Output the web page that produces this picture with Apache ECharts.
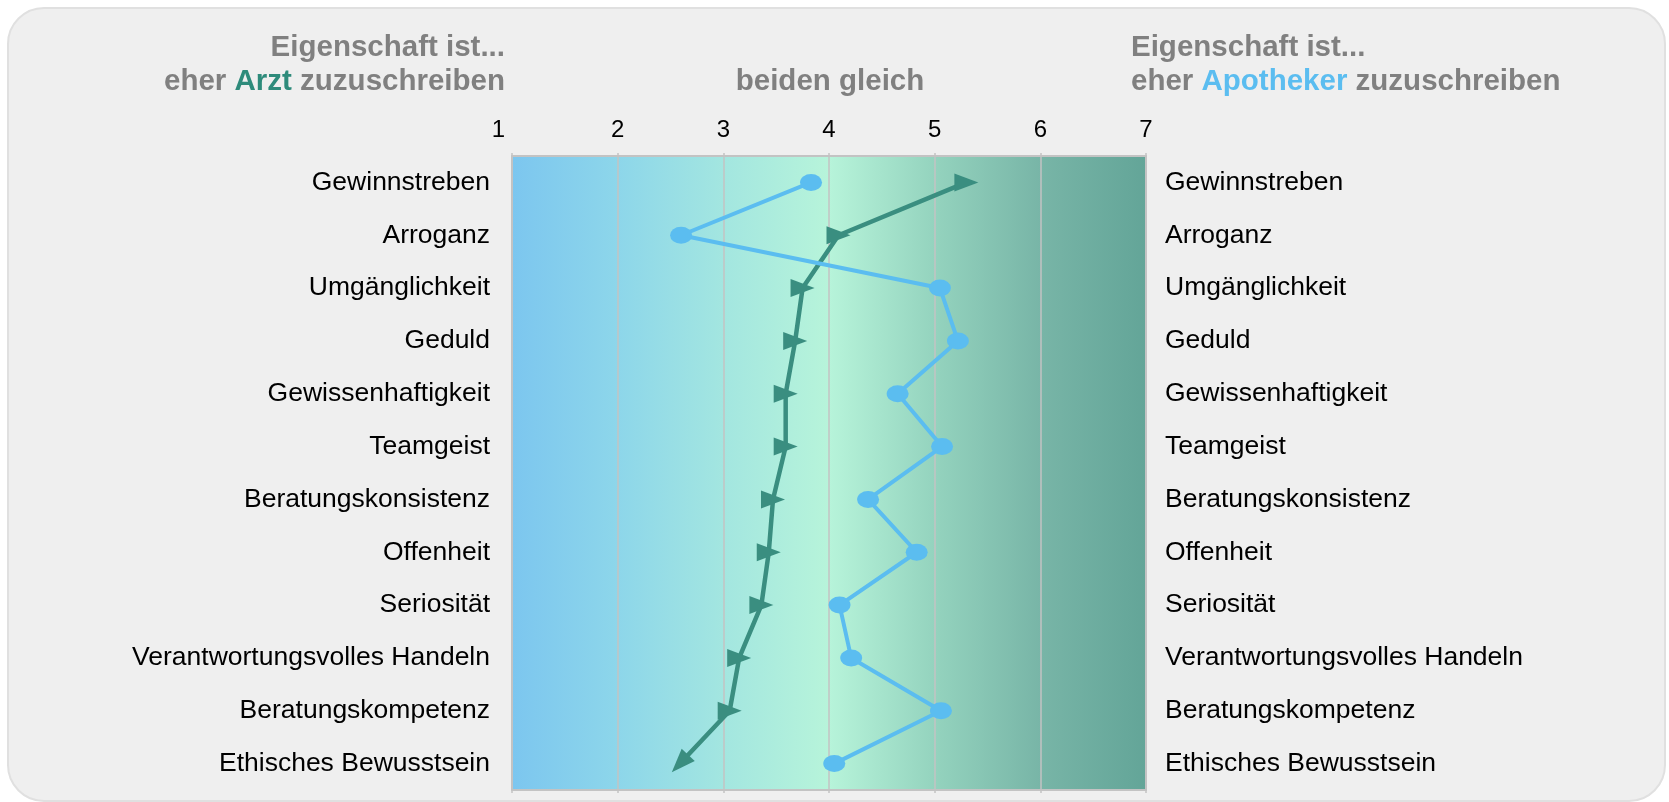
<!DOCTYPE html>
<html>
<head>
<meta charset="utf-8">
<script src="https://cdn.jsdelivr.net/npm/echarts@6/dist/echarts.min.js"></script>
<style>
  html, body { margin: 0; padding: 0; background: #ffffff; }
  #chart { width: 1669px; height: 802px; }
</style>
</head>
<body>
<div id="chart"></div>
<script>
// Eigenschaften (Zeilen von oben nach unten)
const categories = [
  'Gewinnstreben', 'Arroganz', 'Umgänglichkeit', 'Geduld', 'Gewissenhaftigkeit',
  'Teamgeist', 'Beratungskonsistenz', 'Offenheit', 'Seriosität',
  'Verantwortungsvolles Handeln', 'Beratungskompetenz', 'Ethisches Bewusstsein'
];

// Mittelwerte auf der Skala 1 (eher Arzt) bis 7 (eher Apotheker)
const apothekerValues = [3.83, 2.60, 5.05, 5.22, 4.65, 5.07, 4.37, 4.83, 4.10, 4.21, 5.06, 4.05];
const arztValues      = [5.30, 4.09, 3.75, 3.68, 3.59, 3.59, 3.47, 3.43, 3.36, 3.15, 3.06, 2.59];

// Skalenbeschriftung
const scaleTicks = [1, 2, 3, 4, 5, 6, 7];

const FONT = '"Liberation Sans", Arial, sans-serif';
const GRID = { left: 512, top: 156, width: 634, height: 634 };
const X_MIN = scaleTicks[0], X_MAX = scaleTicks[scaleTicks.length - 1];
const HEAD_FONT = 'bold 29.5px ' + FONT;

const chart = echarts.init(document.getElementById('chart'), null, { renderer: 'canvas' });

// Der letzte Arzt-Marker zeigt als Pfeilspitze in Richtung des letzten Segments
function arrowRotation() {
  const n = arztValues.length;
  const pxPerUnit = GRID.width / (X_MAX - X_MIN);
  const pxPerRow = GRID.height / categories.length;
  const dx = (arztValues[n - 1] - arztValues[n - 2]) * pxPerUnit;
  const dy = pxPerRow;
  return Math.atan2(-dy, dx) * 180 / Math.PI - 90;
}
const lastRotate = arrowRotation();

const grey = '#808080';
const gridGrey = '#C3C3C3';

const option = {
  animation: false,
  backgroundColor: 'transparent',
  textStyle: { fontFamily: FONT },
  graphic: [
    {
      type: 'rect', z: -10, silent: true,
      shape: { x: 8, y: 8, width: 1657, height: 793, r: 36 },
      style: { fill: '#EFEFEF', stroke: '#E0E0E0', lineWidth: 2 }
    },
    {
      type: 'text', z: 100, x: 505, y: 48,
      style: {
        text: 'Eigenschaft ist...', align: 'right', verticalAlign: 'middle',
        font: HEAD_FONT, fill: grey
      }
    },
    {
      type: 'text', z: 100, x: 505, y: 82,
      style: {
        text: '{g|eher }{a|Arzt}{g| zuzuschreiben}', align: 'right', verticalAlign: 'middle',
        font: HEAD_FONT, fill: grey,
        rich: {
          g: { font: HEAD_FONT, fill: grey },
          a: { font: HEAD_FONT, fill: '#2E8B7B' }
        }
      }
    },
    {
      type: 'text', z: 100, x: 830, y: 82,
      style: {
        text: 'beiden gleich', align: 'center', verticalAlign: 'middle',
        font: HEAD_FONT, fill: grey
      }
    },
    {
      type: 'text', z: 100, x: 1131, y: 48,
      style: {
        text: 'Eigenschaft ist...', align: 'left', verticalAlign: 'middle',
        font: HEAD_FONT, fill: grey
      }
    },
    {
      type: 'text', z: 100, x: 1131, y: 82,
      style: {
        text: '{g|eher }{p|Apotheker}{g| zuzuschreiben}', align: 'left', verticalAlign: 'middle',
        font: HEAD_FONT, fill: grey,
        rich: {
          g: { font: HEAD_FONT, fill: grey },
          p: { font: HEAD_FONT, fill: '#5BBDF0' }
        }
      }
    }
  ],
  grid: {
    left: GRID.left, top: GRID.top, width: GRID.width, height: GRID.height,
    show: true, borderWidth: 0,
    backgroundColor: {
      type: 'linear', x: 0, y: 0, x2: 1, y2: 0,
      colorStops: [
        { offset: 0, color: '#7CC6EF' },
        { offset: 1 / 6, color: '#8DD6EA' },
        { offset: 2 / 6, color: '#A3E6E0' },
        { offset: 3 / 6, color: '#B7F4DA' },
        { offset: 4 / 6, color: '#94D3BE' },
        { offset: 5 / 6, color: '#78B5A7' },
        { offset: 1, color: '#63A598' }
      ]
    }
  },
  xAxis: [
    {
      type: 'value', position: 'top', min: X_MIN, max: X_MAX, interval: 1,
      axisLine: { show: true, lineStyle: { color: gridGrey, width: 2 } },
      axisTick: { show: true, length: 3, lineStyle: { color: gridGrey, width: 1.5 } },
      splitLine: { show: true, lineStyle: { color: gridGrey, width: 1.5 } },
      axisLabel: {
        margin: 14, fontSize: 24, color: '#000', fontFamily: FONT,
        formatter: v => (v === X_MIN ? '{first|' + v + '}' : String(v)),
        rich: { first: { fontSize: 24, color: '#000', fontFamily: FONT, padding: [0, 27, 0, 0] } }
      }
    },
    {
      type: 'value', position: 'bottom', min: X_MIN, max: X_MAX, interval: 1,
      axisLine: { show: true, lineStyle: { color: gridGrey, width: 2 } },
      axisTick: { show: true, length: 3, lineStyle: { color: gridGrey, width: 1.5 } },
      splitLine: { show: false },
      axisLabel: { show: false }
    }
  ],
  yAxis: [
    {
      type: 'category', inverse: true, data: categories, position: 'left',
      axisLine: { show: true, lineStyle: { color: gridGrey, width: 2 } },
      axisTick: { show: false },
      axisLabel: { margin: 22, fontSize: 26.5, color: '#000', fontFamily: FONT }
    },
    {
      type: 'category', inverse: true, data: categories, position: 'right',
      axisLine: { show: true, lineStyle: { color: gridGrey, width: 2 } },
      axisTick: { show: false },
      axisLabel: { margin: 19, fontSize: 26.5, color: '#000', fontFamily: FONT }
    }
  ],
  series: [
    {
      name: 'Arzt', type: 'line', xAxisIndex: 0, yAxisIndex: 0,
      data: arztValues.map((v, i) => [v, categories[i]]),
      lineStyle: { color: '#3A8E80', width: 4.5 },
      itemStyle: { color: '#3A8E80' },
      symbol: 'triangle',
      symbolSize: [18, 24],
      symbolRotate: (value, params) => (params.dataIndex === arztValues.length - 1 ? lastRotate : -90),
      z: 3
    },
    {
      name: 'Apotheker', type: 'line', xAxisIndex: 0, yAxisIndex: 0,
      data: apothekerValues.map((v, i) => [v, categories[i]]),
      lineStyle: { color: '#5BBDF0', width: 4 },
      itemStyle: { color: '#5BBDF0' },
      symbol: 'circle',
      symbolSize: [22, 17],
      z: 4
    }
  ]
};

chart.setOption(option);
</script>
</body>
</html>
